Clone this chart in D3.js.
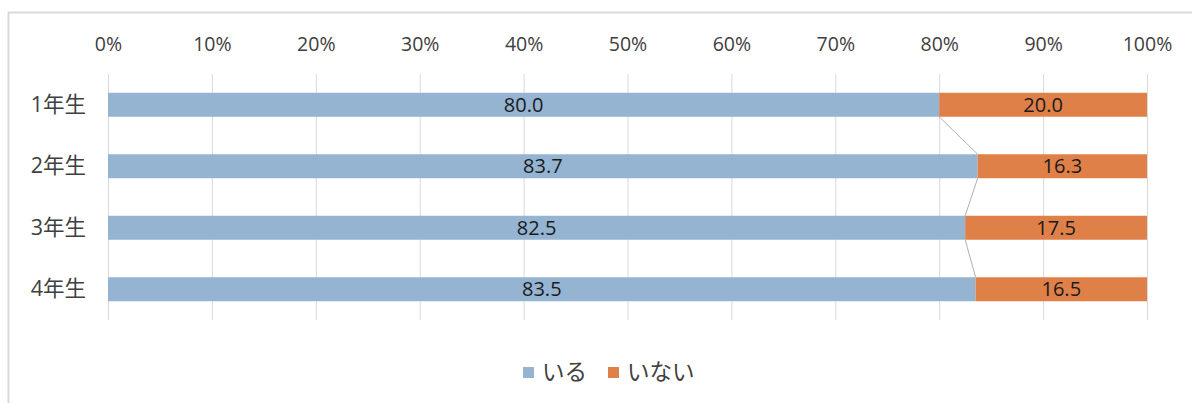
<!DOCTYPE html>
<html><head><meta charset="utf-8">
<script src="https://cdn.jsdelivr.net/npm/d3@7"></script>
<style>
body{margin:0;background:#fff;}
svg{display:block;font-family:"Open Sans","Noto Sans CJK JP",sans-serif;}
</style></head>
<body>
<svg id="c" width="1192" height="403"></svg>
<script>
const categories = ["1年生","2年生","3年生","4年生"];
const iru = [80.0, 83.7, 82.5, 83.5];
const inai = [20.0, 16.3, 17.5, 16.5];
const seriesNames = ["いる","いない"];
const tickValues = [0,10,20,30,40,50,60,70,80,90,100];
const colors = ["#94b4d2","#df8049"];
const FONT = "\"Open Sans\",\"Noto Sans CJK JP\",sans-serif";

const svg = d3.select("#c");
svg.append("rect").attr("x",8.5).attr("y",12.5).attr("width",1200).attr("height",420)
  .attr("fill","none").attr("stroke","#d9d9d9").attr("stroke-width",2);

const x = d3.scaleLinear().domain([0,100]).range([108,1147]);
const y = d3.scaleBand().domain(categories).range([74,320]).paddingInner(0.61).paddingOuter(0.305);

svg.append("g").selectAll("line").data(tickValues).join("line")
  .attr("x1",d=>x(d)+0.5).attr("x2",d=>x(d)+0.5).attr("y1",74).attr("y2",320)
  .attr("stroke","#d9d9d9").attr("stroke-width",1);

const ax = svg.append("g").attr("transform","translate(0,51)")
  .call(d3.axisTop(x).tickValues(tickValues).tickFormat(d=>d+"%").tickSize(0).tickPadding(0));
ax.select(".domain").remove();
ax.selectAll("text").attr("font-size",19.5).attr("fill","#404040").attr("font-family",FONT);

const ay = svg.append("g").attr("transform","translate(86,0)")
  .call(d3.axisLeft(y).tickSize(0).tickPadding(0));
ay.select(".domain").remove();
ay.selectAll("text").attr("font-size",21.5).attr("fill","#404040")
  .attr("font-family",FONT).attr("dy","0.32em");

const bw = y.bandwidth();
const data = categories.map((c,i)=>({c, a:iru[i], b:inai[i]}));

for(let i=0;i<data.length-1;i++){
  svg.append("line")
    .attr("x1",x(data[i].a)).attr("y1",y(data[i].c)+bw)
    .attr("x2",x(data[i+1].a)).attr("y2",y(data[i+1].c))
    .attr("stroke","#b0b0b0").attr("stroke-width",1);
}

const g = svg.append("g");
g.selectAll("rect.a").data(data).join("rect")
  .attr("x",d=>x(0)).attr("y",d=>y(d.c)).attr("width",d=>x(d.a)-x(0)).attr("height",bw)
  .attr("fill",colors[0]);
g.selectAll("rect.b").data(data).join("rect")
  .attr("x",d=>x(d.a)).attr("y",d=>y(d.c)).attr("width",d=>x(d.a+d.b)-x(d.a)).attr("height",bw)
  .attr("fill",colors[1]);

const lbl = svg.append("g").attr("font-size",20).attr("fill","#1a1a1a").attr("text-anchor","middle");
lbl.selectAll("text.a").data(data).join("text")
  .attr("x",d=>(x(0)+x(d.a))/2).attr("y",d=>y(d.c)+bw/2).attr("dy","0.36em")
  .text(d=>d.a.toFixed(1));
lbl.selectAll("text.b").data(data).join("text")
  .attr("x",d=>(x(d.a)+x(d.a+d.b))/2).attr("y",d=>y(d.c)+bw/2).attr("dy","0.36em")
  .text(d=>d.b.toFixed(1));

const leg = svg.append("g").attr("font-size",22.5).attr("fill","#404040");
const legX = [523, 608];
seriesNames.forEach((n,i)=>{
  leg.append("rect").attr("x",legX[i]).attr("y",367).attr("width",11).attr("height",11).attr("fill",colors[i]);
  leg.append("text").attr("x",legX[i]+19).attr("y",372).attr("dy","0.35em")
    .attr("font-family","\"Noto Sans CJK JP\",sans-serif").text(n);
});
</script>
</body></html>
